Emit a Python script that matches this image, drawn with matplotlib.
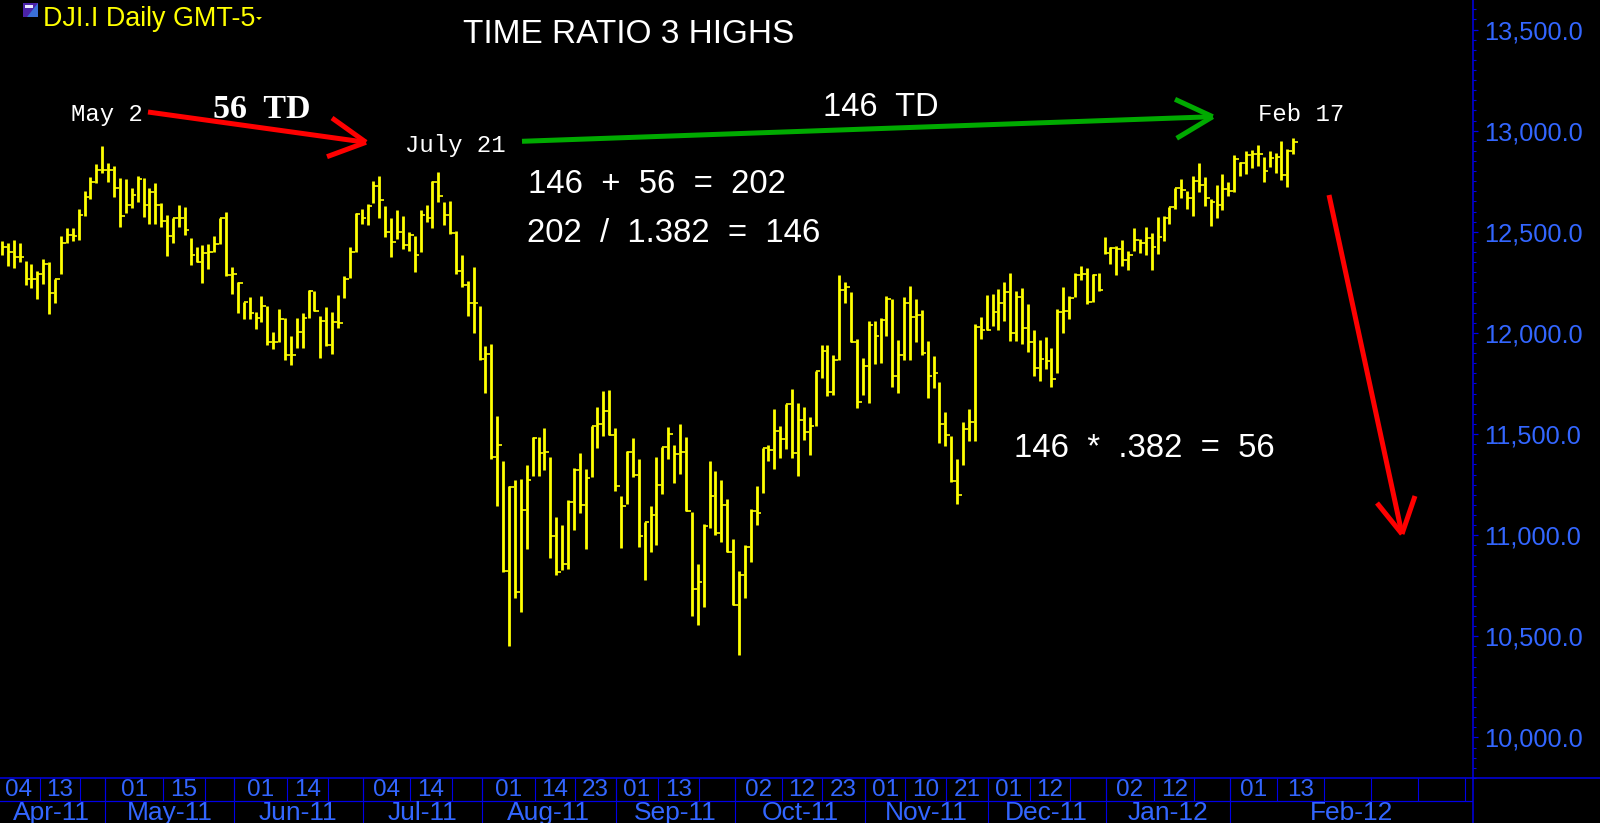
import numpy as np
import matplotlib
matplotlib.use('Agg')
import matplotlib.pyplot as plt
from matplotlib.patches import Rectangle, Polygon
from matplotlib.ticker import MultipleLocator, FuncFormatter

# daily bars
highs = [12452,12444,12460,12444,12358,12342,12304,12365,12353,12266,
         12477,12518,12521,12612,12704,12770,12834,12925,12839,12826,
         12768,12760,12715,12778,12765,12715,12740,12641,12584,12567,
         12633,12621,12468,12427,12435,12439,12481,12570,12597,12325,
         12254,12152,12180,12103,12183,12134,12007,12118,12073,11987,
         12073,12098,12213,12205,12086,12126,12101,12188,12282,12424,
         12592,12612,12636,12752,12776,12628,12567,12608,12579,12501,
         12477,12608,12630,12752,12798,12649,12653,12506,12383,12259,
         12328,12131,11933,11946,11590,11368,11241,11274,11277,11345,
         11485,11485,11529,11386,11088,11052,11172,11332,11406,11327,
         11542,11632,11714,11716,11529,11195,11414,11480,11376,11065,
         11142,11386,11436,11534,11447,11551,11485,11115,10859,11055,
         11368,11319,11274,11180,10981,10825,10953,11131,11244,11430,
         11447,11625,11541,11650,11724,11653,11633,11582,11813,11938,
         11941,11889,12287,12251,12201,11969,11875,12061,12061,12073,
         12183,12167,11966,12180,12233,12167,12111,11961,11888,11757,
         11608,11491,11376,11562,11625,12045,12078,12188,12191,12216,
         12254,12298,12209,12224,12142,12015,11966,11979,11925,12117,
         12226,12183,12295,12331,12320,12290,12298,12476,12427,12432,
         12458,12405,12518,12465,12522,12496,12575,12580,12625,12718,
         12761,12704,12776,12839,12771,12663,12730,12784,12748,12878,
         12844,12900,12905,12928,12868,12900,12891,12949,12910,12962]
lows = [12386,12332,12320,12353,12238,12221,12167,12243,12094,12150,
        12290,12447,12452,12457,12580,12663,12740,12789,12748,12671,
        12523,12595,12620,12649,12575,12539,12539,12526,12381,12447,
        12526,12485,12335,12353,12249,12317,12398,12440,12282,12193,
        12098,12071,12068,12019,12053,11938,11920,11953,11864,11839,
        11925,11925,12073,12106,11875,11936,11897,12024,12175,12271,
        12398,12537,12534,12641,12567,12473,12374,12463,12414,12407,
        12300,12401,12546,12518,12649,12534,12488,12292,12229,12086,
        12002,11867,11703,11376,11142,10816,10450,10689,10618,10931,
        11295,11295,11323,10887,10801,10829,10832,11024,11109,10931,
        11290,11430,11491,11496,11216,10936,11154,11287,10940,10780,
        10915,10950,11203,11376,11258,11302,11121,10602,10558,10643,
        11035,10999,10966,10915,10657,10406,10691,10866,11052,11208,
        11365,11329,11381,11426,11381,11294,11472,11395,11538,11777,
        11686,11694,11867,12150,11957,11631,11692,11653,11847,11850,
        11985,11735,11705,11867,11867,11954,11892,11677,11727,11455,
        11442,11262,11154,11345,11468,11465,11972,12012,12032,12012,
        12061,11962,11962,11943,11906,11785,11763,11821,11735,11804,
        12002,12068,12177,12262,12142,12152,12209,12389,12340,12285,
        12331,12312,12405,12397,12384,12312,12389,12452,12539,12611,
        12669,12615,12578,12695,12628,12531,12567,12607,12679,12699,
        12776,12784,12816,12827,12745,12819,12789,12755,12722,12883]
closes = [12427,12402,12374,12374,12266,12266,12292,12342,12197,12266,
          12447,12485,12477,12584,12671,12748,12806,12806,12806,12715,
          12579,12633,12682,12760,12633,12699,12633,12551,12477,12567,
          12567,12509,12386,12353,12394,12398,12440,12567,12287,12292,
          12246,12152,12098,12073,12131,11953,11953,12070,11892,11892,
          12007,12076,12205,12109,12057,11941,12052,12048,12266,12398,
          12587,12567,12628,12724,12658,12501,12449,12501,12435,12485,
          12386,12584,12567,12748,12677,12584,12496,12304,12238,12147,
          12147,11870,11897,11386,11444,10821,11236,10717,11126,11274,
          11480,11406,11409,10997,10816,10859,11164,11320,11150,11282,
          11541,11551,11615,11496,11244,11142,11411,11299,10994,11063,
          11101,11250,11436,11501,11401,11409,11121,10734,10769,11044,
          11192,11011,11150,10915,10657,10805,10942,11118,11109,11430,
          11419,11516,11477,11650,11406,11571,11508,11538,11813,11913,
          11707,11867,12213,12229,11957,11658,11837,12037,11985,12065,
          12167,11785,11893,12150,12078,12089,11903,11785,11801,11549,
          11493,11266,11200,11526,11559,12028,12015,12015,12101,12147,
          12200,11999,12180,12023,11957,11826,11870,11859,11771,12101,
          12106,12172,12287,12292,12155,12287,12213,12394,12419,12414,
          12361,12384,12457,12447,12470,12424,12476,12570,12621,12715,
          12705,12669,12751,12732,12666,12649,12634,12714,12704,12860,
          12839,12878,12883,12885,12799,12867,12868,12781,12900,12944]

# time axis: edges are in bar numbers, one label per cell
day_edges = [-0.8,6.4,13.2,17.5,27.3,34.4,39.3,48.3,55.3,61.2,69.2,76.3,81.4,90.4,97.2,104.1,
             111.3,118.2,124.3,132.3,139.1,146.4,153.2,160.1,167.2,174.4,181.1,187.2,
             195.4,202.2,208.3,216.3,224.2,232.2,240.2,248.1,249.44]
day_labels = ['04','13','','01','15','','01','14','','04','14','','01','14','23','01',
              '13','','02','12','23','01','10','21','01','12','','02','12','','01','13',
              '','','','']
month_edges = [-0.8,17.5,39.3,61.2,81.4,104.1,124.3,146.4,167.2,187.2,208.3,249.44]
month_labels = ['Apr-11','May-11','Jun-11','Jul-11','Aug-11','Sep-11','Oct-11','Nov-11',
                'Dec-11','Jan-12','Feb-12']
price_ticks = [10000,10500,11000,11500,12000,12500,13000,13500]

W, H = 1600, 823
LINE_BLUE = '#0000e6'
TEXT_BLUE = '#3366ff'
YELLOW = '#ffff00'
RED = '#ff0000'
GREEN = '#00aa00'
SANS = 'Liberation Sans'
MONO = 'Liberation Mono'

fig = plt.figure(figsize=(16, 8.23), dpi=100, facecolor='black')

# price panel
ax = fig.add_axes([0, (H-778.3)/H, 1472.7/W, 778.3/H], facecolor='black')
x = np.arange(len(highs))
ax.vlines(x, lows, highs, color=YELLOW, lw=2.0)
ax.hlines(closes, x, x+0.8, color=YELLOW, lw=1.2)
ax.set_xlim(-0.34, 249.44)
ax.set_ylim(9798, 13646)
for s in ['top', 'left', 'bottom']:
    ax.spines[s].set_visible(False)
ax.spines['right'].set_color(LINE_BLUE)
ax.spines['right'].set_linewidth(1.1)
ax.set_xticks([])
ax.yaxis.tick_right()
ax.set_yticks(price_ticks)
ax.yaxis.set_minor_locator(MultipleLocator(50))
ax.yaxis.set_major_formatter(FuncFormatter(lambda v, p: f'{v:,.1f}'))
ax.tick_params(axis='y', which='major', length=3.6, width=0.9, color=LINE_BLUE, pad=4.5,
               labelcolor=TEXT_BLUE, labelsize=18.3)
ax.tick_params(axis='y', which='minor', length=2, width=0.8, color=LINE_BLUE)
for t in ax.get_yticklabels():
    t.set_family(SANS)

# date strip under the panel
strip = fig.add_axes([0, 0, 1472.7/W, (H-778.3)/H], facecolor='black')
strip.set_xlim(ax.get_xlim())
strip.set_ylim(0, 2)
strip.set_xticks([])
strip.set_yticks([])
for s in ['top', 'left', 'bottom']:
    strip.spines[s].set_visible(False)
strip.spines['right'].set_color(LINE_BLUE)
strip.spines['right'].set_linewidth(1.1)
strip.axhline(1, color=LINE_BLUE, lw=0.9)
strip.vlines(day_edges[1:-1], 1, 2, color=LINE_BLUE, lw=0.8)
strip.vlines(month_edges[1:-1], 0, 2, color=LINE_BLUE, lw=0.8)
for i, lab in enumerate(day_labels):
    strip.text((day_edges[i]+day_edges[i+1])/2, 1.47, lab, color=TEXT_BLUE, family=SANS,
               fontsize=17.5, ha='center', va='center', clip_on=True)
for i, lab in enumerate(month_labels):
    strip.text((month_edges[i]+month_edges[i+1])/2, 0.44, lab, color=TEXT_BLUE, family=SANS,
               fontsize=19, ha='center', va='center', clip_on=True)

# everything hand drawn on the chart goes on a pixel overlay
ov = fig.add_axes([0, 0, 1, 1], facecolor='none')
ov.set_xlim(0, W)
ov.set_ylim(H, 0)
ov.axis('off')
ov.plot([0, W], [778.3, 778.3], color=LINE_BLUE, lw=1.1)

def arrow(x0, y0, x1, y1, b1, b2, color):
    ov.plot([x0, x1], [y0, y1], color=color, lw=3.6, solid_capstyle='butt')
    for bx, by in (b1, b2):
        ov.plot([bx, x1], [by, y1], color=color, lw=3.6, solid_capstyle='butt')

arrow(148, 112, 366, 142.3, (332, 118), (327, 156.7), RED)
arrow(522, 141.3, 1212.7, 116.7, (1175, 99.3), (1176.7, 138.3), GREEN)
arrow(1329, 195, 1402, 534, (1377, 503), (1415, 496), RED)

def label(px, py, s, font, size, color='white', **kw):
    ov.text(px, py, s, family=font, fontsize=size, color=color, ha='left', va='baseline', **kw)

label(462.7, 43, 'TIME RATIO 3 HIGHS', SANS, 24)
label(823, 116, '146  TD', SANS, 23.5)
label(213, 118, '56  TD', 'Liberation Serif', 24.5, fontweight='bold')
label(528, 193, '146  +  56  =  202', SANS, 23.7)
label(526.7, 242, '202  /  1.382  =  146', SANS, 23.7)
label(1014, 457.3, '146  *  .382  =  56', SANS, 23.7)
label(70.7, 121, 'May 2', MONO, 17.3)
label(405, 151.7, 'July 21', MONO, 17.3)
label(1257.7, 121, 'Feb 17', MONO, 17.3)
label(42.7, 26, 'DJI.I Daily GMT-5', SANS, 19.4, color=YELLOW)

# small drop-down marker and instrument icon at the top left
ov.add_patch(Polygon([(256, 17), (262, 17), (259, 20)], closed=True, color=YELLOW, lw=0))
ov.add_patch(Rectangle((23, 3), 15, 14, color='#4a22a8', lw=0))
ov.add_patch(Polygon([(38, 3), (38, 17), (27, 17)], closed=True, color='#3a6fd8', lw=0))
ov.add_patch(Rectangle((25, 5), 8, 3, color='#e8e8ff', lw=0))

fig.savefig('out.png', dpi=100, facecolor='black')
